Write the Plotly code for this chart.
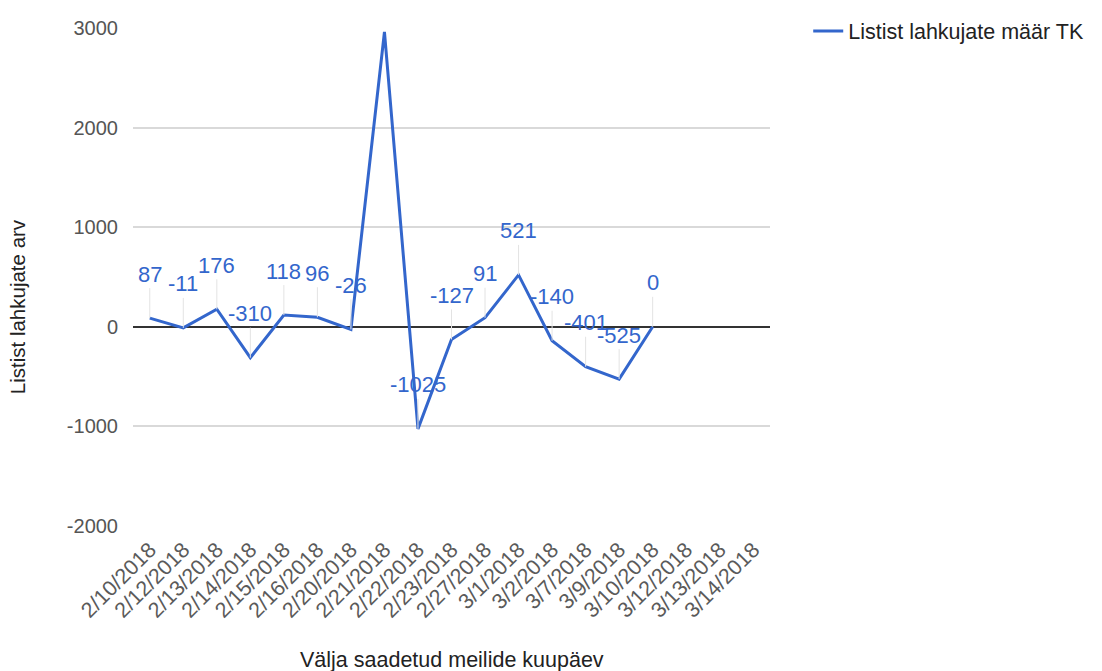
import plotly.graph_objects as go

categories = ["2/10/2018", "2/12/2018", "2/13/2018", "2/14/2018", "2/15/2018", "2/16/2018",
              "2/20/2018", "2/21/2018", "2/22/2018", "2/23/2018", "2/27/2018", "3/1/2018",
              "3/2/2018", "3/7/2018", "3/9/2018", "3/10/2018", "3/12/2018", "3/13/2018", "3/14/2018"]
values = [87, -11, 176, -310, 118, 96, -26, 2960, -1025, -127, 91, 521, -140, -401, -525, 0,
          None, None, None]
labels = ["87", "-11", "176", "-310", "118", "96", "-26", None, "-1025", "-127", "91", "521",
          "-140", "-401", "-525", "0", None, None, None]

y_tickvals = [-2000, -1000, 0, 1000, 2000, 3000]
y_ticktext = ["-2000", "-1000", "0", "1000", "2000", "3000"]

series_name = "Listist lahkujate määr TK"
y_title = "Listist lahkujate arv"
x_title = "Välja saadetud meilide kuupäev"

FONT = "Arial, Liberation Sans, sans-serif"
BLUE = "#3366cc"

fig = go.Figure()
fig.add_trace(go.Scatter(
    x=categories, y=values, mode="lines", name=series_name,
    line=dict(color=BLUE, width=3), connectgaps=False,
))

for c, v, t in zip(categories, values, labels):
    if t is None or v is None:
        continue
    fig.add_annotation(
        x=c, y=v, xref="x", yref="y", text=t,
        showarrow=True, ax=0, ay=-44, arrowhead=0, arrowwidth=1,
        arrowcolor="#e3e3e3",
        font=dict(family=FONT, size=22, color=BLUE),
        bgcolor="rgba(0,0,0,0)",
    )

# axis titles placed as annotations (positions in paper coordinates)
fig.add_annotation(
    x=-0.18, y=0.44, xref="paper", yref="paper", text=y_title, showarrow=False,
    textangle=-90, xanchor="center", yanchor="middle",
    font=dict(family=FONT, size=20.5, color="#222"),
)
fig.add_annotation(
    x=0.5, y=-0.27, xref="paper", yref="paper", text=x_title, showarrow=False,
    xanchor="center", yanchor="middle",
    font=dict(family=FONT, size=21.5, color="#222"),
)

fig.update_layout(
    width=1102, height=671,
    margin=dict(l=133, r=332, t=28, b=145, autoexpand=False),
    paper_bgcolor="white", plot_bgcolor="white",
    font=dict(family=FONT, size=20, color="#444"),
    showlegend=True,
    legend=dict(x=1.06, y=1.035, xanchor="left", yanchor="top",
                font=dict(family=FONT, size=21.5, color="#222"),
                itemwidth=30, bgcolor="rgba(0,0,0,0)"),
    xaxis=dict(
        type="category", categoryorder="array", categoryarray=categories,
        range=[-0.5, len(categories) - 0.5],
        tickangle=-45, showgrid=False, zeroline=False, showline=False,
        tickfont=dict(family=FONT, size=21.5, color="#5a5a5a"),
        ticks="", ticklabelstandoff=6, automargin=False,
    ),
    yaxis=dict(
        range=[-2000, 3000], tickvals=y_tickvals, ticktext=y_ticktext,
        showgrid=True, gridcolor="#d9d9d9", gridwidth=1.5,
        zeroline=True, zerolinecolor="#333", zerolinewidth=1.5,
        showline=False, ticks="", ticklabelstandoff=14, automargin=False,
        tickfont=dict(family=FONT, size=20, color="#555"),
    ),
)

fig.write_html("out.html")
